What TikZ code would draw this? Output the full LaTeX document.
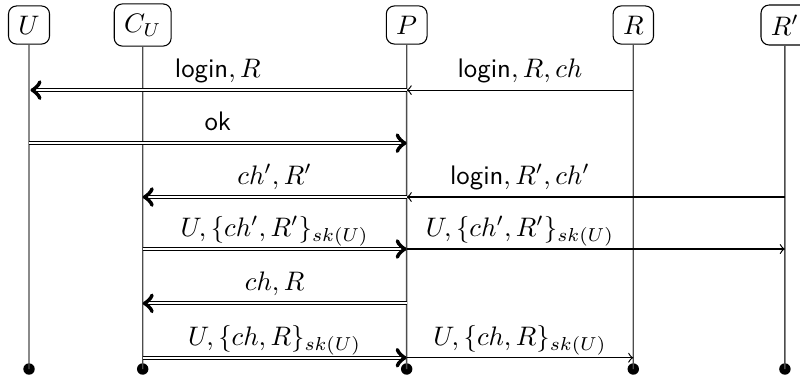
\documentclass[tikz,border=0pt]{standalone}
\usepackage{amsmath}
\usetikzlibrary{calc}
\begin{document}
\begin{tikzpicture}[scale=0.9545,
  actor/.style={draw, rounded corners=3pt, inner sep=3.7pt},
  life/.style={draw=black!70, line width=0.5pt},
  dbl/.style={double, double distance=0.7pt, line width=0.45pt, ->},
  sgl/.style={->, line width=0.45pt},
  lbl/.style={anchor=base, inner sep=0pt},
  enddot/.style={circle, fill=black, inner sep=0pt, minimum size=0.15cm}
]
\useasboundingbox (0,0) rectangle (11,5.184);
% actors
\node[actor] (U)  at (0.399,4.84) {$U$};
\node[actor] (CU) at (1.962,4.84) {$C_U$};
\node[actor] (P)  at (5.592,4.84) {$P$};
\node[actor] (R)  at (8.708,4.84) {$R$};
\node[actor] (Rp) at (10.793,4.84) {$R'$};
% end points
\coordinate (bot) at (0,0.11);
\node[enddot] (Ue)  at (U |- bot) {};
\node[enddot] (CUe) at (CU |- bot) {};
\node[enddot] (Pe)  at (P |- bot) {};
\node[enddot] (Re)  at (R |- bot) {};
\node[enddot] (Rpe) at (Rp |- bot) {};
% lifelines
\draw[life] (U) -- (Ue.center);
\draw[life] (CU) -- (CUe.center);
\draw[life] (P) -- (Pe.center);
\draw[life] (R) -- (Re.center);
\draw[life] (Rp) -- (Rpe.center);
% message heights
\coordinate (m1) at (0,3.945);
\coordinate (m2) at (0,3.216);
\coordinate (m3) at (0,2.475);
\coordinate (m4) at (0,1.760);
\coordinate (m5) at (0,1.013);
\coordinate (m6) at (0,0.265);
\coordinate (lo) at (0,0.172);
% 1
\draw[sgl] (R |- m1) -- (P |- m1);
\draw[dbl] (P |- m1) -- ([xshift=0.02cm]U |- m1);
\node[lbl] (l1a) at ($(U |- m1)!0.5!(P |- m1)+(lo)$) {$\textsf{login}, R$};
\node[lbl] (l1b) at ($(P |- m1)!0.5!(R |- m1)+(lo)$) {$\textsf{login}, R, ch$};
% 2
\draw[dbl] (U |- m2) -- (P |- m2);
\node[lbl] (l2) at ($(U |- m2)!0.5!(P |- m2)+(lo)$) {\textsf{ok}};
% 3
\draw[sgl] (Rp |- m3) -- (P |- m3);
\draw[dbl] (P |- m3) -- (CU |- m3);
\node[lbl] (l3a) at ($(CU |- m3)!0.5!(P |- m3)+(lo)$) {$ch', R'$};
\node[lbl] (l3b) at ($(P |- m3)!0.5!(R |- m3)+(lo)$) {$\textsf{login}, R', ch'$};
% 4
\draw[dbl] (CU |- m4) -- (P |- m4);
\draw[sgl] (P |- m4) -- (Rp |- m4);
\node[lbl] (l4a) at ($(CU |- m4)!0.5!(P |- m4)+(lo)$) {$U, \{ch', R'\}_{sk(U)}$};
\node[lbl] (l4b) at ($(P |- m4)!0.5!(R |- m4)+(lo)$) {$U, \{ch', R'\}_{sk(U)}$};
% 5
\draw[dbl] (P |- m5) -- (CU |- m5);
\node[lbl] (l5) at ($(CU |- m5)!0.5!(P |- m5)+(lo)$) {$ch, R$};
% 6
\draw[dbl] (CU |- m6) -- (P |- m6);
\draw[sgl] (P |- m6) -- (R |- m6);
\node[lbl] (l6a) at ($(CU |- m6)!0.5!(P |- m6)+(lo)$) {$U, \{ch, R\}_{sk(U)}$};
\node[lbl] (l6b) at ($(P |- m6)!0.5!(R |- m6)+(lo)$) {$U, \{ch, R\}_{sk(U)}$};
\end{tikzpicture}
\end{document}
